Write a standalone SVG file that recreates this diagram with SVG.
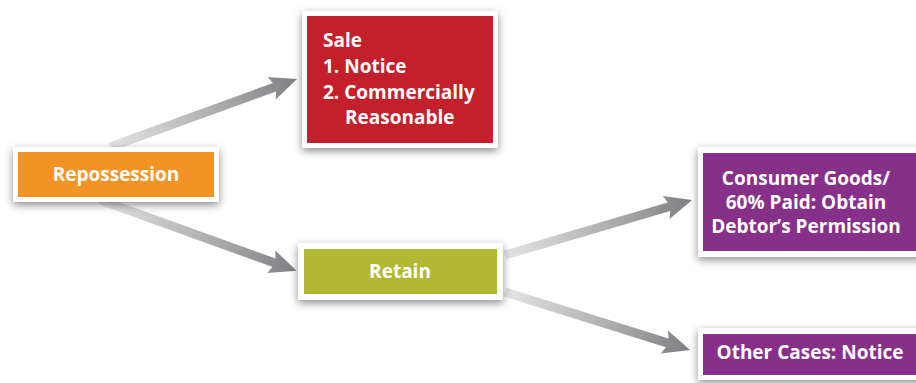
<svg xmlns="http://www.w3.org/2000/svg" width="916" height="383" viewBox="0 0 916 383">
<defs>
<linearGradient id="ag" x1="0" y1="0" x2="1" y2="0">
<stop offset="0" stop-color="#e4e4e4"/>
<stop offset="0.5" stop-color="#b4b4b6"/>
<stop offset="1" stop-color="#7e7f82"/>
</linearGradient>
<filter id="sh" x="-20%" y="-30%" width="140%" height="160%">
<feDropShadow dx="0" dy="3" stdDeviation="4" flood-color="#000" flood-opacity="0.45"/>
</filter>
</defs>
<style>
.outer{fill:#fff;filter:url(#sh)}
.t{font-family:"Open Sans","Liberation Sans",sans-serif;font-weight:bold;font-size:19px;fill:#fff}
.c{text-anchor:middle}
.arr{fill:url(#ag)}
</style>
<rect width="916" height="383" fill="#fff"/>
<g id="connectors">
<g transform="translate(110,147) rotate(-19.98)"><path class="arr" d="M0,-4.5 L175,-4.5 L172,-12 L199,0 L172,12 L175,4.5 L0,4.5 Z"/></g>
<g transform="translate(100,200) rotate(19.82)"><path class="arr" d="M0,-4.5 L185,-4.5 L182,-12 L209,0 L182,12 L185,4.5 L0,4.5 Z"/></g>
<g transform="translate(505,255) rotate(-16.39)"><path class="arr" d="M0,-4.5 L171,-4.5 L168,-12 L195,0 L168,12 L171,4.5 L0,4.5 Z"/></g>
<g transform="translate(505,292) rotate(17.41)"><path class="arr" d="M0,-4.5 L170,-4.5 L167,-12 L194,0 L167,12 L170,4.5 L0,4.5 Z"/></g>
</g>
<g id="repossession">
<rect class="outer" x="13" y="147" width="206" height="55"/>
<rect x="18" y="152" width="196" height="45" fill="#f39325"/>
<text class="t c" x="116" y="181">Repossession</text>
</g>
<g id="sale">
<rect class="outer" x="302" y="11" width="196" height="137"/>
<rect x="307" y="16" width="186" height="127" fill="#c4202b"/>
<text class="t" x="323" y="47">Sale</text>
<text class="t" x="323" y="73">1. Notice</text>
<text class="t" x="323" y="99">2. Commercially</text>
<text class="t" x="345" y="124">Reasonable</text>
</g>
<g id="retain">
<rect class="outer" x="298" y="243" width="205" height="57"/>
<rect x="304" y="249" width="193" height="45" fill="#b1b934"/>
<text class="t c" x="400" y="278">Retain</text>
</g>
<g id="consumer">
<rect class="outer" x="698" y="147" width="224" height="110"/>
<rect x="703" y="153" width="214" height="98" fill="#87308a"/>
<text class="t c" x="806" y="185">Consumer Goods/</text>
<text class="t c" x="806" y="209">60% Paid: Obtain</text>
<text class="t c" x="806" y="233">Debtor’s Permission</text>
</g>
<g id="other">
<rect class="outer" x="698" y="328" width="224" height="52"/>
<rect x="703" y="334" width="214" height="41" fill="#87308a"/>
<text class="t c" x="810" y="359">Other Cases: Notice</text>
</g>
</svg>
